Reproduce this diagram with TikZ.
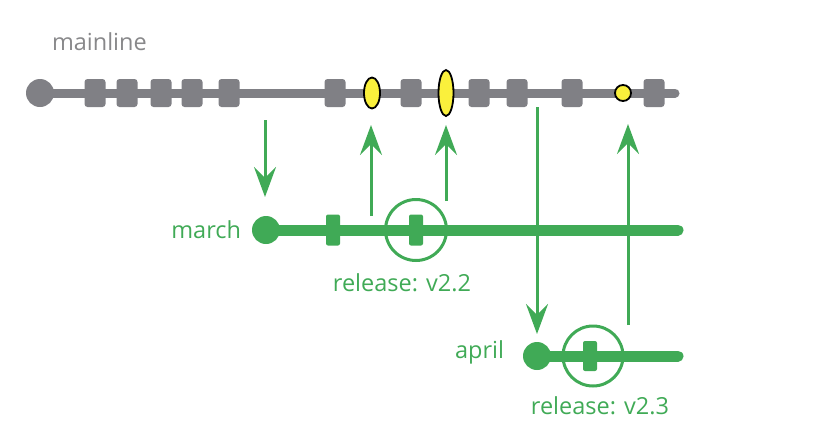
\documentclass[tikz,border=0pt]{standalone}
\usepackage{fontspec}
\setmainfont{Open Sans}
\usetikzlibrary{arrows.meta, shapes.geometric}
\definecolor{branchgreen}{RGB}{64,170,86}
\definecolor{commitgray}{RGB}{128,128,133}
\definecolor{labelgray}{RGB}{136,136,138}
\definecolor{tagyellow}{RGB}{250,240,60}
\begin{document}
\begin{tikzpicture}[
				x=1pt, y=-1pt,
				every node/.style={inner sep=0, outer sep=0},
				commit/.style={draw=none, fill=commitgray, rectangle, rounded corners=3pt, minimum width=21pt, minimum height=28pt},
				bcommit/.style={draw=none, fill=branchgreen, rectangle, rounded corners=2pt, minimum width=14pt, minimum height=31pt},
				start/.style={circle, fill=#1, minimum size=28pt},
				merged/.style={ellipse, draw=black, line width=1.8pt, fill=tagyellow},
				release/.style={circle, draw=branchgreen, line width=3pt, minimum size=61pt},
				label/.style={font=\fontsize{23.5}{28}\selectfont, text=branchgreen},
				flow/.style={draw=branchgreen, line width=3pt, -{Stealth[length=30pt, width=22pt, inset=11pt]}},
			]
			\useasboundingbox (0,0) rectangle (820,445);
			% mainline
			\node[font=\fontsize{23.5}{28}\selectfont, text=labelgray, anchor=base west] (mainlabel) at (52,50) {mainline};
			\node[start=commitgray] (main) at (40,93) {};
			\coordinate (mainend) at (675,93);
			\draw[commitgray, line width=9pt, line cap=round] (main.center) -- (mainend);
			\foreach \x [count=\i] in {95,127,161,192,229,335,411,479,517,572,654}
				\node[commit] (c\i) at (\x,93) {};
			\node[merged, minimum width=16pt, minimum height=31pt] (m22) at (372,93) {};
			\node[merged, minimum width=15pt, minimum height=46pt] (m22b) at (446,93) {};
			\node[merged, circle, minimum size=16pt] (m23) at (623,93) {};
			% march
			\node[start=branchgreen] (march) at (266,230) {};
			\node[label, anchor=east] (marchlabel) at (241,230) {march};
			\coordinate (marchend) at (678,230);
			\draw[branchgreen, line width=11pt, line cap=round] (march.center) -- (marchend);
			\node[bcommit] (mc1) at (333,230) {};
			\node[bcommit] (mc2) at (416,230) {};
			\node[release] (v22) at (416,230) {};
			\node[label] (v22label) at (402,283) {release: v2.2};
			% april
			\node[start=branchgreen] (april) at (537,356) {};
			\node[label, anchor=east] (aprillabel) at (504,352) {april};
			\coordinate (aprilend) at (678,356);
			\draw[branchgreen, line width=11pt, line cap=round] (april.center) -- (aprilend);
			\node[bcommit, minimum height=30pt] (ac1) at (590,356) {};
			\node[release, minimum size=60pt] (v23) at (593,356) {};
			\node[label] (v23label) at (600,406) {release: v2.3};
			% flows
			\coordinate (f1s) at (265,120);
			\coordinate (f1e) at (265,197);
			\coordinate (f2s) at (371,216);
			\coordinate (f2e) at (371,125);
			\coordinate (f3s) at (446,201);
			\coordinate (f3e) at (446,125);
			\coordinate (f4s) at (537,107);
			\coordinate (f4e) at (537,334);
			\coordinate (f5s) at (628,325);
			\coordinate (f5e) at (628,124);
			\foreach \s/\e in {f1s/f1e, f2s/f2e, f3s/f3e, f4s/f4e, f5s/f5e}
				\draw[flow] (\s) -- (\e);
			\end{tikzpicture}
\end{document}
